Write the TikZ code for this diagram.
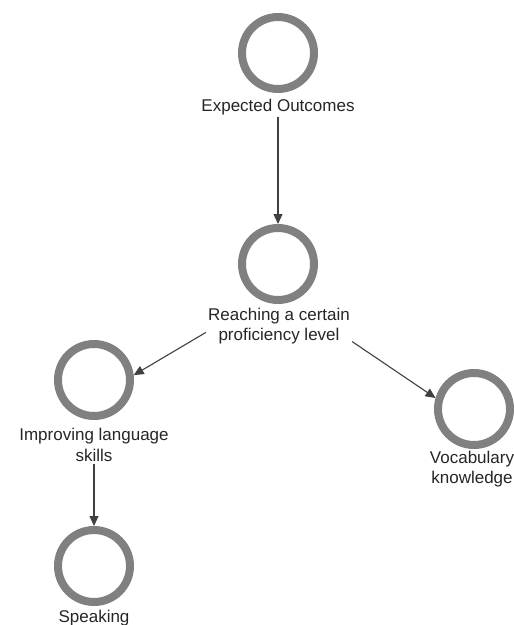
\documentclass[tikz,border=0pt]{standalone}
\usepackage{fontspec}
\setmainfont{Liberation Sans}
\usepackage{xcolor}
\definecolor{ringgray}{RGB}{128,128,128}
\definecolor{arrowgray}{RGB}{64,64,64}
\usetikzlibrary{arrows.meta,positioning}

\tikzset{
  ring/.style={circle, draw=ringgray, line width=8pt, minimum size=72pt, inner sep=0pt},
  caption/.style={font=\fontsize{17}{20.5}\selectfont, align=center, inner sep=2pt, text=black!85},
  link/.style={-{Triangle[length=10pt,width=9pt]}, line width=1.1pt, arrowgray}
}

\begin{document}
\begin{tikzpicture}[x=1pt,y=-1pt]
  \fill[white] (0,0) rectangle (514,625);
  \clip (0,0) rectangle (514,625);

  %--- top ---
  \node[ring] (expected) at (278,53) {};
  \node[caption] (expectedlbl) at (278,107) {Expected Outcomes};

  %--- middle ---
  \node[ring] (reach) at (278,264) {};
  \node[caption] (reachlbl) at (279,326) {Reaching a certain\\proficiency level};

  %--- left branch ---
  \node[ring] (improve) at (94,380) {};
  \node[caption] (improvelbl) at (94,445) {Improving language\\skills};
  \node[ring] (speak) at (94,566) {};
  \node[caption] (speaklbl) at (94,618) {Speaking};

  %--- right branch ---
  \node[ring] (vocab) at (474,409) {};
  \node[caption] (vocablbl) at (472,469) {Vocabulary\\knowledge};

  \draw[link] (expectedlbl.south) -- (reach.north);
  \draw[link] (reachlbl.185) -- (improve.7);
  \draw[link] (reachlbl.-12) -- (vocab.164);
  \draw[link] (improvelbl.south) -- (speak.north);
\end{tikzpicture}
\end{document}
